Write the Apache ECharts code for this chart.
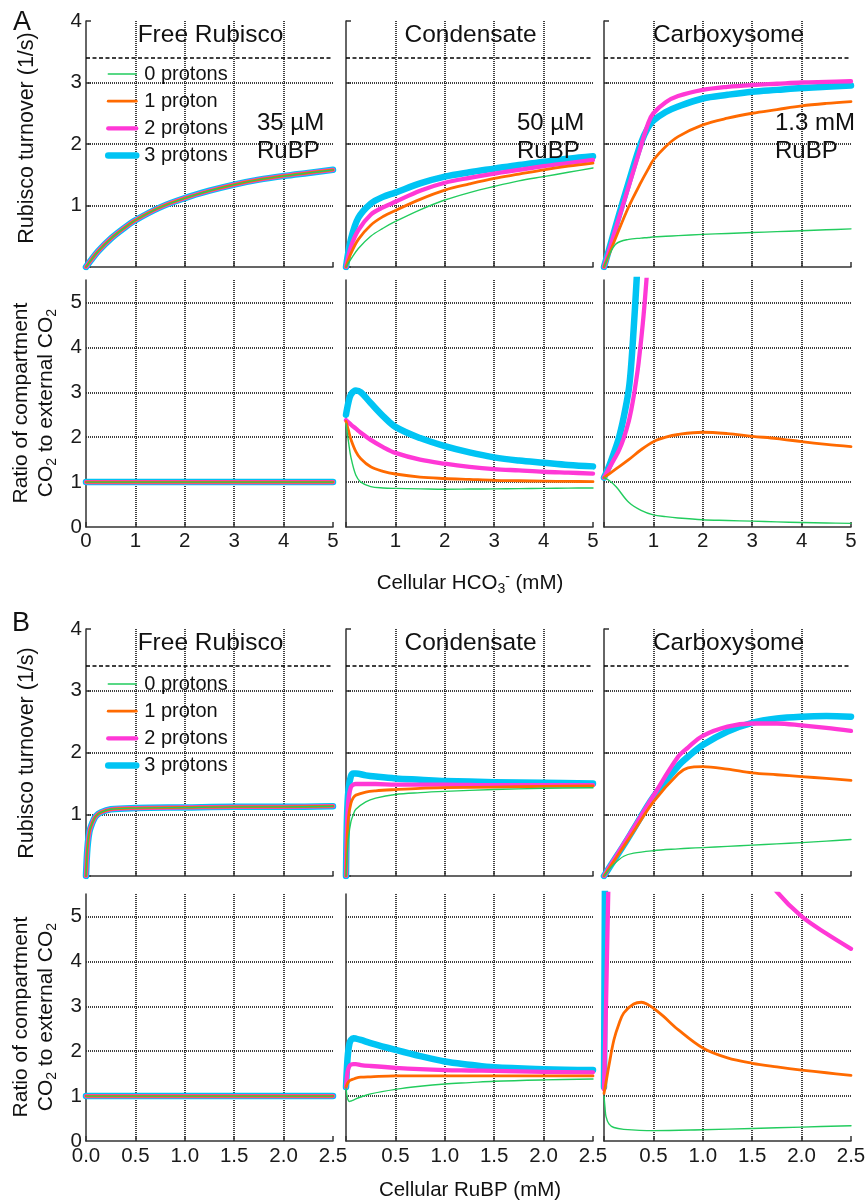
<!DOCTYPE html>
<html>
<head>
<meta charset="utf-8">
<script src="https://cdn.jsdelivr.net/npm/echarts@6/dist/echarts.min.js"></script>
<style>
  html, body { margin: 0; padding: 0; background: #fff; }
  #chart { width: 866px; height: 1202px; }
</style>
</head>
<body>
<div id="chart"></div>
<script>
// ---- labels ----
const seriesNames = ['0 protons', '1 proton', '2 protons', '3 protons'];
const compartments = ['Free Rubisco', 'Condensate', 'Carboxysome'];
const rubpLevels = ['35 µM', '50 µM', '1.3 mM'];
const maxTurnover = 3.4;   // dashed reference line, 1/s

// ---- tick values ----
const hco3Ticks = [0, 1, 2, 3, 4, 5];
const rubpTicks = [0, 0.5, 1, 1.5, 2, 2.5];
const rubpTickLabels = ['0.0', '0.5', '1.0', '1.5', '2.0', '2.5'];
const turnoverTicks = [1, 2, 3, 4];
const ratioTicks = [0, 1, 2, 3, 4, 5];

// ---- A: Rubisco turnover vs cellular HCO3- (mM) ----
const aFreeX = [0, 0.1, 0.25, 0.5, 0.75, 1, 1.5, 2, 2.5, 3, 3.5, 4, 4.5, 5];
const aFreeTurnover = [0, 0.11, 0.26, 0.46, 0.62, 0.76, 0.97, 1.12, 1.24, 1.34, 1.42, 1.48, 1.53, 1.58];

const aCondX = [0, 0.1, 0.25, 0.5, 0.75, 1, 1.5, 2, 2.5, 3, 3.5, 4, 4.5, 5];
const aCondTurnover0 = [0, 0.13, 0.3, 0.5, 0.63, 0.74, 0.93, 1.09, 1.21, 1.31, 1.4, 1.47, 1.54, 1.61];
const aCondTurnover1 = [0, 0.22, 0.45, 0.68, 0.82, 0.92, 1.1, 1.25, 1.35, 1.44, 1.51, 1.58, 1.64, 1.69];
const aCondTurnover2 = [0, 0.33, 0.6, 0.85, 0.97, 1.06, 1.24, 1.37, 1.45, 1.52, 1.58, 1.64, 1.69, 1.74];
const aCondTurnover3 = [0, 0.45, 0.8, 1.03, 1.14, 1.21, 1.36, 1.47, 1.54, 1.6, 1.66, 1.71, 1.76, 1.8];

const aCarbX = [0, 0.1, 0.25, 0.5, 0.75, 0.9, 1, 1.25, 1.5, 2, 2.5, 3, 3.5, 4, 4.5, 5];
const aCarbTurnover0 = [0, 0.19, 0.38, 0.45, 0.47, 0.48, 0.49, 0.5, 0.51, 0.53, 0.545, 0.56, 0.575, 0.59, 0.605, 0.62];
const aCarbTurnover1 = [0, 0.2, 0.5, 0.98, 1.38, 1.6, 1.74, 1.96, 2.12, 2.31, 2.42, 2.5, 2.56, 2.62, 2.66, 2.69];
const aCarbTurnover2 = [0, 0.26, 0.66, 1.31, 1.97, 2.35, 2.5, 2.68, 2.78, 2.88, 2.93, 2.96, 2.98, 3.0, 3.01, 3.02];
const aCarbTurnover3 = [0, 0.28, 0.7, 1.38, 2.02, 2.28, 2.38, 2.52, 2.61, 2.74, 2.8, 2.85, 2.88, 2.91, 2.93, 2.95];

// ---- A: compartment / external CO2 ratio vs cellular HCO3- ----
const aFreeRatioX = [0, 5];
const aFreeRatio = [1, 1];

const aCondRatioX = [0, 0.05, 0.1, 0.2, 0.3, 0.5, 0.75, 1, 1.5, 2, 2.5, 3, 3.5, 4, 4.5, 5];
const aCondRatio0 = [2.3, 1.9, 1.55, 1.15, 1.0, 0.9, 0.87, 0.86, 0.85, 0.84, 0.845, 0.85, 0.855, 0.86, 0.865, 0.87];
const aCondRatio1 = [2.35, 2.15, 1.95, 1.68, 1.52, 1.34, 1.24, 1.18, 1.11, 1.08, 1.06, 1.04, 1.03, 1.02, 1.015, 1.01];
const aCondRatio2 = [2.38, 2.33, 2.28, 2.19, 2.1, 1.94, 1.78, 1.65, 1.5, 1.41, 1.34, 1.29, 1.26, 1.23, 1.21, 1.19];
const aCondRatio3 = [2.5, 2.78, 2.95, 3.04, 3.0, 2.76, 2.47, 2.23, 1.98, 1.8, 1.66, 1.55, 1.48, 1.43, 1.38, 1.35];

const aCarbRatioX = [0, 0.1, 0.25, 0.5, 0.75, 1, 1.25, 1.5, 2, 2.5, 3, 3.5, 4, 4.5, 5];
const aCarbRatio0 = [1.1, 1.04, 0.89, 0.55, 0.37, 0.27, 0.23, 0.2, 0.16, 0.145, 0.13, 0.115, 0.1, 0.09, 0.08];
const aCarbRatio1 = [1.1, 1.18, 1.3, 1.5, 1.72, 1.9, 2.0, 2.06, 2.11, 2.08, 2.02, 1.97, 1.9, 1.84, 1.79];
const aCarbRatioSteepX = [0, 0.1, 0.2, 0.3, 0.4, 0.5, 0.55, 0.6, 0.65, 0.7, 0.8, 0.9];
const aCarbRatio2 = [1.1, 1.3, 1.5, 1.7, 1.98, 2.35, 2.6, 2.9, 3.25, 3.65, 4.7, 6.1];
const aCarbRatio3 = [1.1, 1.35, 1.65, 1.98, 2.45, 3.05, 3.6, 4.4, 5.3, 6.3, 8.5, 11];

// ---- B: Rubisco turnover vs cellular RuBP (mM) ----
const bFreeX = [0, 0.01, 0.02, 0.035, 0.05, 0.075, 0.1, 0.15, 0.25, 0.5, 1, 1.5, 2, 2.5];
const bFreeTurnover = [0, 0.35, 0.55, 0.72, 0.8, 0.9, 0.97, 1.03, 1.08, 1.1, 1.11, 1.12, 1.12, 1.13];

const bCondX = [0, 0.01, 0.025, 0.05, 0.075, 0.1, 0.2, 0.3, 0.5, 0.75, 1, 1.5, 2, 2.5];
const bCondTurnover0 = [0, 0.3, 0.62, 0.88, 1.0, 1.08, 1.2, 1.26, 1.32, 1.35, 1.37, 1.4, 1.42, 1.43];
const bCondTurnover1 = [0, 0.55, 0.95, 1.18, 1.27, 1.31, 1.36, 1.38, 1.4, 1.42, 1.43, 1.44, 1.45, 1.46];
const bCondTurnover2 = [0, 0.8, 1.25, 1.44, 1.48, 1.49, 1.49, 1.49, 1.48, 1.48, 1.48, 1.47, 1.47, 1.47];
const bCondTurnover3 = [0, 0.95, 1.4, 1.62, 1.66, 1.66, 1.63, 1.61, 1.58, 1.56, 1.54, 1.52, 1.51, 1.5];

const bCarbX = [0, 0.1, 0.2, 0.3, 0.5, 0.75, 0.85, 1, 1.25, 1.5, 1.75, 2, 2.25, 2.5];
const bCarbTurnover0 = [0, 0.19, 0.32, 0.37, 0.41, 0.44, 0.45, 0.46, 0.48, 0.5, 0.52, 0.54, 0.565, 0.59];
const bCarbTurnover1 = [0, 0.24, 0.48, 0.72, 1.2, 1.65, 1.75, 1.77, 1.73, 1.67, 1.64, 1.61, 1.58, 1.55];
const bCarbTurnover2 = [0, 0.26, 0.52, 0.78, 1.3, 1.93, 2.08, 2.27, 2.42, 2.47, 2.47, 2.44, 2.4, 2.35];
const bCarbTurnover3 = [0, 0.25, 0.5, 0.76, 1.28, 1.78, 1.93, 2.12, 2.34, 2.48, 2.55, 2.58, 2.59, 2.58];

// ---- B: compartment / external CO2 ratio vs cellular RuBP ----
const bFreeRatioX = [0, 2.5];
const bFreeRatio = [1, 1];

const bCondRatioX = [0, 0.01, 0.02, 0.035, 0.05, 0.075, 0.1, 0.15, 0.25, 0.5, 0.75, 1, 1.25, 1.5, 2, 2.5];
const bCondRatio0 = [1.18, 1.0, 0.92, 0.88, 0.89, 0.91, 0.94, 0.98, 1.05, 1.15, 1.22, 1.27, 1.3, 1.33, 1.36, 1.38];
const bCondRatio1 = [1.2, 1.26, 1.3, 1.34, 1.36, 1.38, 1.4, 1.42, 1.43, 1.45, 1.45, 1.45, 1.45, 1.45, 1.45, 1.45];
const bCondRatio2 = [1.2, 1.45, 1.58, 1.67, 1.7, 1.71, 1.71, 1.69, 1.67, 1.63, 1.6, 1.58, 1.57, 1.56, 1.54, 1.53];
const bCondRatio3 = [1.2, 1.65, 1.95, 2.17, 2.25, 2.29, 2.28, 2.25, 2.18, 2.03, 1.89, 1.77, 1.7, 1.64, 1.6, 1.58];

const bCarbRatio0X = [0, 0.01, 0.02, 0.05, 0.1, 0.2, 0.5, 1, 1.5, 2, 2.5];
const bCarbRatio0 = [1.0, 0.75, 0.55, 0.38, 0.3, 0.26, 0.23, 0.25, 0.28, 0.31, 0.34];
const bCarbRatio1X = [0, 0.02, 0.05, 0.1, 0.15, 0.2, 0.3, 0.38, 0.45, 0.5, 0.6, 0.75, 1, 1.25, 1.5, 1.75, 2, 2.25, 2.5];
const bCarbRatio1 = [1.06, 1.3, 1.68, 2.25, 2.6, 2.85, 3.05, 3.09, 3.03, 2.96, 2.78, 2.48, 2.07, 1.85, 1.73, 1.65, 1.58, 1.52, 1.46];
const bCarbRatio2X = [0, 0.02, 0.04, 0.06, 0.1, 0.5, 1, 1.5, 1.75, 2, 2.25, 2.5];
const bCarbRatio2 = [1.15, 3.0, 5.2, 7.0, 9.0, 12.0, 9.5, 6.3, 5.55, 5.0, 4.62, 4.28];
const bCarbRatio3X = [0, 0.005, 0.01, 0.02];
const bCarbRatio3 = [1.2, 3.5, 6.0, 10.0];

// ---- layout and styling ----
const FONT = "'Liberation Sans', Arial, Helvetica, sans-serif";
const colors = ['#22cc5e', '#ff6a00', '#ff38d6', '#00c4f4'];
const widths = [1.4, 2.8, 4.3, 6.5];
const colLeft = [86, 346, 604];
const rowTop = [21, 280, 629, 894];
const rowHeight = [246, 247, 247, 247];
const gridW = 247;

// each row: columns -> [x, y] arrays for 0..3 protons
const rows = [
  { kind: 'turnover', sweep: 'hco3', panels: [
    [[aFreeX, aFreeTurnover], [aFreeX, aFreeTurnover], [aFreeX, aFreeTurnover], [aFreeX, aFreeTurnover]],
    [[aCondX, aCondTurnover0], [aCondX, aCondTurnover1], [aCondX, aCondTurnover2], [aCondX, aCondTurnover3]],
    [[aCarbX, aCarbTurnover0], [aCarbX, aCarbTurnover1], [aCarbX, aCarbTurnover2], [aCarbX, aCarbTurnover3]]
  ]},
  { kind: 'ratio', sweep: 'hco3', panels: [
    [[aFreeRatioX, aFreeRatio], [aFreeRatioX, aFreeRatio], [aFreeRatioX, aFreeRatio], [aFreeRatioX, aFreeRatio]],
    [[aCondRatioX, aCondRatio0], [aCondRatioX, aCondRatio1], [aCondRatioX, aCondRatio2], [aCondRatioX, aCondRatio3]],
    [[aCarbRatioX, aCarbRatio0], [aCarbRatioX, aCarbRatio1], [aCarbRatioSteepX, aCarbRatio2], [aCarbRatioSteepX, aCarbRatio3]]
  ]},
  { kind: 'turnover', sweep: 'rubp', panels: [
    [[bFreeX, bFreeTurnover], [bFreeX, bFreeTurnover], [bFreeX, bFreeTurnover], [bFreeX, bFreeTurnover]],
    [[bCondX, bCondTurnover0], [bCondX, bCondTurnover1], [bCondX, bCondTurnover2], [bCondX, bCondTurnover3]],
    [[bCarbX, bCarbTurnover0], [bCarbX, bCarbTurnover1], [bCarbX, bCarbTurnover2], [bCarbX, bCarbTurnover3]]
  ]},
  { kind: 'ratio', sweep: 'rubp', panels: [
    [[bFreeRatioX, bFreeRatio], [bFreeRatioX, bFreeRatio], [bFreeRatioX, bFreeRatio], [bFreeRatioX, bFreeRatio]],
    [[bCondRatioX, bCondRatio0], [bCondRatioX, bCondRatio1], [bCondRatioX, bCondRatio2], [bCondRatioX, bCondRatio3]],
    [[bCarbRatio0X, bCarbRatio0], [bCarbRatio1X, bCarbRatio1], [bCarbRatio2X, bCarbRatio2], [bCarbRatio3X, bCarbRatio3]]
  ]}
];

const pts = (xs, ys) => xs.map((x, i) => [x, ys[i]]);
const axisColor = '#333';
const gridLine = { show: true, showMinLine: false, showMaxLine: false,
  lineStyle: { color: '#000', type: [1, 1], width: 1.5 } };

const grids = [], xAxes = [], yAxes = [], series = [];

rows.forEach((row, r) => {
  row.panels.forEach((curves, c) => {
    const gi = grids.length;
    grids.push({ left: colLeft[c], top: rowTop[r], width: gridW, height: rowHeight[r],
      containLabel: false, outerBoundsMode: 'none' });

    const xt = row.sweep === 'hco3' ? hco3Ticks : rubpTicks;
    const xMax = xt[xt.length - 1];
    xAxes.push({
      gridIndex: gi, type: 'value', min: 0, max: xMax, interval: xt[1] - xt[0],
      axisLine: { show: true, onZero: false, lineStyle: { color: axisColor, width: 1.5 } },
      axisTick: { show: true, inside: true, length: 5,
        lineStyle: { color: axisColor, width: 1.5 } },
      axisLabel: { show: row.kind === 'ratio', customValues: c === 0 ? xt : xt.slice(1),
        margin: row.sweep === 'hco3' ? 4 : 5, fontSize: 20.5, fontFamily: FONT, color: '#1a1a1a',
        formatter: v => row.sweep === 'hco3' ? String(v) : rubpTickLabels[rubpTicks.indexOf(v)] },
      splitLine: gridLine
    });

    const isTurn = row.kind === 'turnover';
    yAxes.push({
      gridIndex: gi, type: 'value', min: 0, max: isTurn ? 4 : 5.5, interval: 1,
      axisLine: { show: true, onZero: false, lineStyle: { color: axisColor, width: 1.5 } },
      axisTick: { show: isTurn, inside: true, length: 5,
        lineStyle: { color: axisColor, width: 1.5 } },
      axisLabel: { show: c === 0, customValues: isTurn ? turnoverTicks : ratioTicks,
        margin: 4, fontSize: 20.5, fontFamily: FONT, color: '#1a1a1a' },
      splitLine: gridLine
    });

    // draw thickest (3 protons) first so thinner curves stay visible on top
    [3, 2, 1, 0].forEach((k, order) => {
      const s = {
        type: 'line', name: seriesNames[k], xAxisIndex: gi, yAxisIndex: gi,
        data: pts(curves[k][0], curves[k][1]),
        symbol: 'none', showSymbol: false, smooth: 0.35,
        clip: true, z: 10 + order,
        lineStyle: { color: colors[k], width: widths[k], cap: 'round', join: 'round' },
        itemStyle: { color: colors[k] },
        emphasis: { disabled: true }
      };
      if (isTurn && order === 0) {
        s.markLine = { silent: true, symbol: 'none', label: { show: false },
          lineStyle: { color: '#000', type: [4, 2.5], width: 1.6 },
          data: [{ yAxis: maxTurnover }] };
      }
      series.push(s);
    });
  });
});

// ---- text ----
const graphics = [];
function txt(text, x, y, size, opt) {
  opt = opt || {};
  const align = opt.align || 'center';
  graphics.push({
    type: 'text', x: x, y: y, rotation: opt.rotation || 0, silent: true, z: 100,
    style: Object.assign({
      text: text, fontSize: size, fontFamily: FONT, fill: '#111',
      align: align, textAlign: align, verticalAlign: 'middle', textVerticalAlign: 'middle'
    }, opt.style || {})
  });
}

txt('A', 22, 23, 27);
txt('B', 21, 624, 27);

[0, 2].forEach(r => {
  compartments.forEach((name, c) => {
    txt(name, colLeft[c] + gridW / 2 + 1, rowTop[r] + 14.5, 24.5);
  });
});
rubpLevels.forEach((lvl, c) => {
  txt(lvl, colLeft[c] + 171, 123, 24, { align: 'left' });
  txt('RuBP', colLeft[c] + 171, 151, 24, { align: 'left' });
});

const subRich = {
  s: { fontSize: 14, lineHeight: 14, verticalAlign: 'bottom', fontFamily: FONT, fill: '#111' },
  p: { fontSize: 14, lineHeight: 14, verticalAlign: 'top', fontFamily: FONT, fill: '#111' }
};

// y-axis titles
txt('Rubisco turnover (1/s)', 27, 138, 21.5, { rotation: Math.PI / 2 });
txt('Rubisco turnover (1/s)', 27, 753, 21.5, { rotation: Math.PI / 2 });
[403, 1017].forEach(cy => {
  txt('Ratio of compartment\nCO{s|2} to external CO{s|2}', 34, cy, 21, {
    rotation: Math.PI / 2, style: { lineHeight: 25, rich: subRich }
  });
});

// x-axis titles
txt('Cellular HCO{s|3}{p|-} (mM)', 470, 583, 20.5, { style: { lineHeight: 26, rich: subRich } });
txt('Cellular RuBP (mM)', 470, 1190, 20.5);

const chart = echarts.init(document.getElementById('chart'), null, { renderer: 'canvas' });
chart.setOption({
  animation: false,
  backgroundColor: '#fff',
  textStyle: { fontFamily: FONT },
  grid: grids,
  xAxis: xAxes,
  yAxis: yAxes,
  legend: [59, 669].map(top => ({
    orient: 'vertical', left: 100, top: top, data: seriesNames,
    itemWidth: 28, itemHeight: 14, itemGap: 7.2, selectedMode: false,
    itemStyle: { opacity: 0 },
    lineStyle: { width: 'inherit' },
    textStyle: { fontSize: 20, fontFamily: FONT, color: '#111', padding: [0, 0, 0, 3] }
  })),
  series: series,
  graphic: graphics
});
</script>
</body>
</html>
